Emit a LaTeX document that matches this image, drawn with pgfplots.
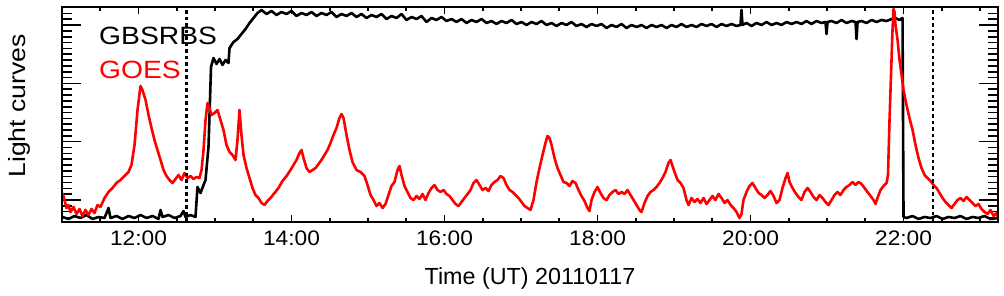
\documentclass[border=0pt]{standalone}
\usepackage{fontspec}
\setmainfont{Liberation Sans}
\newfontfamily\widefont{Liberation Sans}[FakeStretch=1.13]
\newfontfamily\tickfont{Liberation Sans}[FakeStretch=1.08]
\usepackage{pgfplots}
\pgfplotsset{compat=1.18}
\newcommand\ticklab{\tickfont\fontsize{21bp}{25bp}\selectfont}
\newcommand\xlab{\fontsize{23.3bp}{28bp}\selectfont}
\newcommand\ylab{\widefont\fontsize{23.5bp}{28bp}\selectfont}
\newcommand\legf{\widefont\fontsize{25bp}{30bp}\selectfont}
\begin{document}
\begin{tikzpicture}
\useasboundingbox (-62bp,-74bp) rectangle (942bp,222bp);
\begin{axis}[
  at={(0,0)}, anchor=south west,
  scale only axis, width=936bp, height=215bp,
  xmin=11, xmax=23.235, ymin=0, ymax=215,
  xtick=\empty,
  ytick={22,80.3,138.6,196.9}, yticklabels={},
  minor ytick={4.51,10.34,16.17,27.83,33.66,39.49,45.32,51.15,56.98,62.81,68.64,74.47,86.13,91.96,97.79,103.62,109.45,115.28,121.11,126.94,132.77,144.43,150.26,156.09,161.92,167.75,173.58,179.41,185.24,191.07,202.73,208.56},
  ytick pos=both, tick align=inside,
  major tick length=19bp, minor tick length=10bp,
  every tick/.style={black, line width=1.6bp},
  axis line style={line width=1.6bp},
  ylabel={Light curves},
  ylabel style={at={(axis description cs:-0.0385,0.5395)}, anchor=base, font=\ylab},
]
\addplot[black, line width=2.6bp, line join=round] coordinates {
(11.006,5)(11.085,3)(11.163,6)(11.242,4)(11.320,7)(11.399,3)(11.477,5)(11.556,4)(11.608,14)(11.634,4)(11.712,6)(11.791,3)(11.869,6)(11.948,4)(12.026,7)(12.105,4)(12.183,6)(12.261,3)(12.288,12)(12.314,5)(12.392,7)(12.471,4)(12.549,6)(12.588,11)(12.614,5)(12.680,7)(12.745,5)(12.771,35)(12.810,29)(12.876,42)(12.915,75)(12.948,155)(12.980,164)(13.020,158)(13.059,163)(13.098,157)(13.137,162)(13.176,159)(13.190,174)(13.242,180)(13.294,183)(13.346,188)(13.399,193)(13.451,199)(13.503,204)(13.556,209)(13.608,212)
(13.673,208)(13.739,211)(13.804,207)(13.869,210)(13.935,208)(14.000,211)(14.065,206)(14.131,209)(14.196,207)(14.261,210)(14.327,206)(14.392,209)(14.458,207)(14.523,210)(14.588,205)(14.654,208)(14.719,206)(14.784,209)(14.850,205)(14.915,208)(14.980,204)(15.046,207)(15.111,205)(15.176,208)(15.242,203)(15.307,206)(15.373,204)(15.438,208)(15.503,202)(15.569,205)(15.634,203)(15.699,206)(15.765,200)(15.830,204)(15.895,202)(15.961,205)(16.026,201)(16.092,203)(16.157,200)(16.222,203)(16.288,199)(16.353,202)(16.418,200)(16.484,203)(16.549,199)(16.614,201)(16.680,198)(16.745,201)(16.810,199)(16.876,202)(16.941,198)(17.007,200)(17.072,197)(17.137,200)(17.203,198)(17.268,201)(17.333,197)(17.399,199)(17.464,196)(17.529,199)(17.595,197)(17.660,200)(17.725,196)(17.791,198)(17.856,195)(17.922,198)(17.987,196)(18.052,198)(18.118,194)(18.183,197)(18.248,195)(18.314,198)(18.379,194)(18.444,197)(18.510,195)(18.575,197)(18.641,194)(18.706,197)(18.771,195)(18.837,197)(18.902,194)(18.967,197)(19.033,195)(19.098,198)(19.163,195)(19.229,197)(19.294,195)(19.359,198)(19.425,196)(19.490,198)(19.556,195)(19.621,198)(19.686,196)(19.752,198)(19.817,196)(19.869,197)(19.882,212)(19.895,197)(19.948,199)(20.013,196)(20.078,199)(20.144,197)(20.209,200)(20.275,197)(20.340,199)(20.405,197)(20.471,200)(20.536,198)(20.601,200)(20.667,198)(20.732,201)(20.797,198)(20.863,201)(20.928,199)(20.980,200)(20.993,188)(21.007,200)(21.059,201)(21.124,199)(21.190,202)(21.255,199)(21.320,201)(21.373,200)(21.386,183)(21.399,200)(21.451,201)(21.516,199)(21.582,202)(21.647,200)(21.712,202)(21.778,201)(21.843,203)(21.895,204)(21.948,202)(21.987,204)
(22.000,5)(22.039,4)(22.118,6)(22.196,3)(22.275,5)(22.353,4)(22.431,6)(22.510,3)(22.588,5)(22.667,4)(22.745,6)(22.824,3)(22.902,5)(22.980,4)(23.059,6)(23.137,3)(23.235,4)
};
\addplot[red, line width=2.6bp, line join=round] coordinates {
(11.006,29)(11.033,22)(11.059,14)(11.085,17)(11.111,10)(11.150,15)(11.190,8)(11.229,13)(11.268,6)(11.307,12)(11.346,7)(11.386,13)(11.425,9)(11.464,17)(11.503,15)(11.556,24)(11.608,30)(11.660,34)(11.712,39)(11.765,42)(11.817,46)(11.869,50)(11.908,57)(11.948,77)(11.987,112)(12.026,136)(12.052,132)(12.092,122)(12.131,107)(12.170,94)(12.209,82)(12.248,72)(12.288,62)(12.327,52)(12.366,46)(12.405,42)(12.444,39)(12.484,43)(12.523,47)(12.562,42)(12.601,49)(12.641,44)(12.680,46)(12.719,43)(12.758,45)(12.797,44)(12.824,52)(12.850,72)(12.876,102)(12.902,119)(12.928,114)(12.954,107)(12.993,109)(13.033,112)(13.072,102)(13.111,92)(13.150,77)(13.190,70)(13.229,67)(13.268,62)(13.294,82)(13.320,112)(13.346,87)(13.373,67)(13.412,54)(13.451,44)(13.490,34)(13.529,27)(13.569,24)(13.608,19)(13.647,17)(13.686,21)(13.725,24)(13.778,29)(13.830,34)(13.882,41)(13.935,46)(13.987,52)(14.026,57)(14.065,62)(14.105,69)(14.131,72)(14.157,64)(14.196,54)(14.235,50)(14.275,52)(14.314,54)(14.353,58)(14.392,62)(14.431,67)(14.471,72)(14.510,79)(14.549,87)(14.588,94)(14.627,104)(14.654,108)(14.680,104)(14.719,87)(14.758,72)(14.797,60)(14.850,52)(14.902,50)(14.954,46)(14.993,37)(15.033,27)(15.072,22)(15.111,16)(15.150,19)(15.190,14)(15.229,18)(15.268,27)(15.307,36)(15.346,40)(15.386,52)(15.412,56)(15.438,47)(15.477,36)(15.516,30)(15.556,24)(15.595,22)(15.634,26)(15.673,23)(15.712,28)(15.752,22)(15.791,29)(15.830,34)(15.869,37)(15.908,32)(15.948,30)(15.987,32)(16.026,28)(16.065,26)(16.105,22)(16.144,18)(16.183,16)(16.222,20)(16.261,24)(16.301,28)(16.340,32)(16.379,39)(16.418,42)(16.458,37)(16.497,32)(16.536,34)(16.575,31)(16.614,37)(16.654,40)(16.693,42)(16.732,46)(16.771,44)(16.810,37)(16.850,32)(16.889,30)(16.928,27)(16.967,24)(17.007,20)(17.046,16)(17.085,14)(17.124,12)(17.163,22)(17.203,40)(17.242,54)(17.281,67)(17.320,79)(17.346,86)(17.373,84)(17.399,77)(17.438,64)(17.477,54)(17.516,47)(17.556,40)(17.595,39)(17.634,36)(17.673,41)(17.712,39)(17.752,32)(17.791,26)(17.830,21)(17.869,14)(17.895,11)(17.922,22)(17.961,30)(18.000,35)(18.039,29)(18.078,24)(18.118,22)(18.157,27)(18.196,30)(18.235,32)(18.275,28)(18.314,30)(18.353,28)(18.392,32)(18.431,27)(18.471,22)(18.510,17)(18.549,12)(18.575,10)(18.614,19)(18.654,26)(18.693,30)(18.732,32)(18.771,35)(18.810,39)(18.850,44)(18.889,50)(18.928,59)(18.954,62)(18.980,56)(19.007,50)(19.046,42)(19.085,39)(19.124,34)(19.163,22)(19.190,17)(19.229,24)(19.268,20)(19.307,23)(19.346,19)(19.386,24)(19.425,18)(19.464,22)(19.503,26)(19.542,22)(19.582,28)(19.621,24)(19.660,19)(19.699,22)(19.739,17)(19.778,14)(19.817,10)(19.856,4)(19.882,8)(19.908,22)(19.948,30)(19.987,36)(20.026,39)(20.065,34)(20.105,29)(20.144,27)(20.183,24)(20.222,27)(20.261,31)(20.301,26)(20.340,19)(20.379,22)(20.418,34)(20.458,44)(20.484,49)(20.510,40)(20.549,34)(20.588,29)(20.627,25)(20.667,22)(20.706,30)(20.745,34)(20.784,30)(20.824,25)(20.863,22)(20.902,27)(20.941,24)(20.980,20)(21.020,17)(21.059,22)(21.098,27)(21.137,30)(21.176,27)(21.216,32)(21.255,35)(21.294,37)(21.333,40)(21.373,37)(21.412,40)(21.451,38)(21.490,34)(21.529,30)(21.569,26)(21.608,22)(21.634,18)(21.660,24)(21.699,32)(21.739,36)(21.778,39)(21.797,47)(21.817,102)(21.830,132)(21.843,162)(21.856,192)(21.869,213)(21.882,210)(21.895,197)(21.922,182)(21.948,162)(21.974,147)(22.000,132)(22.039,117)(22.078,104)(22.118,92)(22.157,77)(22.196,64)(22.235,54)(22.275,47)(22.314,44)(22.353,41)(22.392,37)(22.431,34)(22.471,29)(22.510,24)(22.549,20)(22.588,17)(22.627,14)(22.667,18)(22.706,22)(22.745,24)(22.784,21)(22.824,25)(22.863,22)(22.902,19)(22.941,16)(22.980,18)(23.020,13)(23.059,10)(23.098,8)(23.137,12)(23.176,6)(23.216,9)(23.235,4)
};
\addplot[black, line width=2.4bp, dash pattern=on 3.5bp off 3bp] coordinates {(12.63,0) (12.63,215)};
\addplot[black, line width=2.4bp, dash pattern=on 3.5bp off 3bp] coordinates {(22.385,0) (22.385,215)};
\end{axis}
\begin{axis}[
  at={(0,0)}, anchor=south west,
  scale only axis, width=936bp, height=215bp,
  xmin=11, xmax=23.235, ymin=0, ymax=215,
  ytick=\empty,
  xtick={12,14,16,18,20,22},
  xticklabels={12:00,14:00,16:00,18:00,20:00,22:00},
  minor xtick={11.5,12.5,13,13.5,14.5,15,15.5,16.5,17,17.5,18.5,19,19.5,20.5,21,21.5,22.5,23},
  xtick pos=both, tick align=inside,
  major tick length=7bp, minor tick length=4.5bp,
  every tick/.style={black, line width=1.6bp},
  axis line style={line width=1.6bp},
  xticklabel style={font=\ticklab, anchor=base, yshift=-23bp},
  xlabel={Time (UT) 20110117},
  xlabel style={at={(axis description cs:0.5,-0.2884)}, anchor=base, font=\xlab},
]
\end{axis}
\node[anchor=base west, inner sep=0, font=\legf] at (37bp,177bp) {GBSRBS};
\node[anchor=base west, inner sep=0, font=\legf, text=red] at (37bp,143bp) {GOES};
\end{tikzpicture}
\end{document}
